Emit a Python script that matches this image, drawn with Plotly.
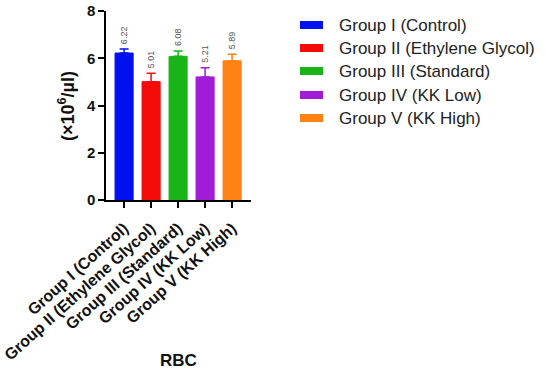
import plotly.graph_objects as go

groups = ["Group I (Control)", "Group II (Ethylene Glycol)", "Group III (Standard)",
          "Group IV (KK Low)", "Group V (KK High)"]
means = [6.22, 5.01, 6.08, 5.21, 5.89]
errors = [0.17, 0.36, 0.23, 0.39, 0.28]
labels = ["6.22", "5.01", "6.08", "5.21", "5.89"]
colors = ["#0010F0", "#F50A0A", "#18B418", "#A21CD8", "#FF8212"]
y_ticks = [0, 2, 4, 6, 8]

FONT = "Arial, Liberation Sans, sans-serif"
W, H = 546, 374
L, R, T, B = 106, 295, 11, 174
PW, PH = W - L - R, H - T - B

def px_to_paper(px, py):
    return (px - L) / PW, (H - B - py) / PH

fig = go.Figure()
for g, m, e, c in zip(groups, means, errors, colors):
    fig.add_trace(go.Bar(
        x=[g], y=[m], name=g, width=0.67,
        marker=dict(color=c, line=dict(color=c, width=1)),
        error_y=dict(type="data", array=[e], arrayminus=[0], symmetric=False,
                     color=c, thickness=1.5, width=4.5),
        showlegend=False,
    ))

annotations = []
for g, m, e, t in zip(groups, means, errors, labels):
    annotations.append(dict(x=g, y=m + e, text=t, showarrow=False, textangle=-90,
                            xanchor="center", yanchor="bottom", yshift=3,
                            font=dict(family=FONT, size=9, color="#555555")))

# legend drawn manually
shapes = []
row_y = [25, 48, 71, 95, 118]
for g, c, ry in zip(groups, colors, row_y):
    x0, y0 = px_to_paper(300, ry - 4)
    x1, y1 = px_to_paper(323, ry + 4)
    shapes.append(dict(type="rect", xref="paper", yref="paper", x0=x0, x1=x1, y0=y1, y1=y0,
                       fillcolor=c, line=dict(width=0)))
    tx, ty = px_to_paper(337, ry)
    annotations.append(dict(xref="paper", yref="paper", x=tx, y=ty, text=g, showarrow=False,
                            xanchor="left", yanchor="middle",
                            font=dict(family=FONT, size=17, color="#222222")))

tx, ty = px_to_paper(178.5, 360)
annotations.append(dict(xref="paper", yref="paper", x=tx, y=ty, text="<b>RBC</b>",
                        showarrow=False, xanchor="center", yanchor="middle",
                        font=dict(family=FONT, size=17, color="#111111")))

tx, ty = px_to_paper(66, 106)
annotations.append(dict(xref="paper", yref="paper", x=tx, y=ty,
                        text="<b>(×10<sup>6</sup>/µl)</b>", textangle=-90,
                        showarrow=False, xanchor="center", yanchor="middle",
                        font=dict(family=FONT, size=18, color="#111111")))

fig.update_layout(
    width=W, height=H,
    margin=dict(l=L, r=R, t=T, b=B, autoexpand=False),
    paper_bgcolor="white", plot_bgcolor="white",
    bargap=0.33,
    annotations=annotations, shapes=shapes,
    font=dict(family=FONT, color="#111111"),
)
fig.update_xaxes(
    range=[-0.67, 4.7], showline=True, linecolor="black", linewidth=1.5,
    ticks="outside", ticklen=6, tickwidth=1.5, tickcolor="black",
    tickangle=-42, ticklabelstandoff=5,
    tickfont=dict(family=FONT, size=16, color="#111111"),
    tickvals=groups, ticktext=[f"<b>{g}</b>" for g in groups],
    showgrid=False, zeroline=False,
)
fig.update_yaxes(
    range=[0, 8], tickvals=y_ticks, ticktext=[f"<b>{v}</b>" for v in y_ticks],
    showline=True, linecolor="black", linewidth=1.5,
    ticks="outside", ticklen=6, tickwidth=1.5, tickcolor="black",
    tickfont=dict(family=FONT, size=15, color="#111111"),
    showgrid=False, zeroline=False,
)
fig.write_html("out.html", config={"displayModeBar": False},
               post_script="document.body.style.margin='0';")
